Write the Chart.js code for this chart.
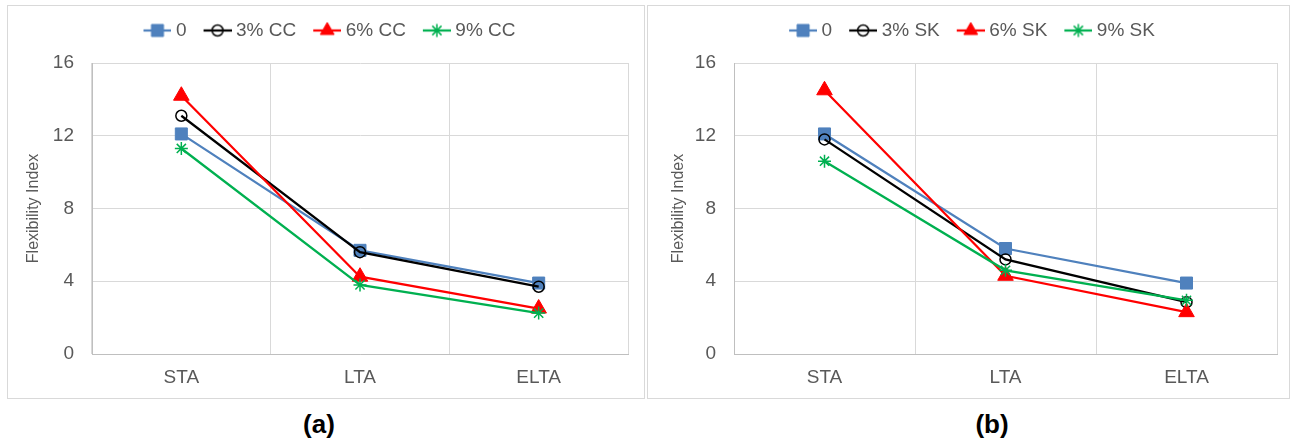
<!DOCTYPE html>
<html><head><meta charset="utf-8">
<script src="https://cdn.jsdelivr.net/npm/chart.js@4/dist/chart.umd.min.js"></script>
<style>
html,body{margin:0;padding:0;background:#fff;width:1291px;height:444px;overflow:hidden;position:relative;font-family:"Liberation Sans",Arial,sans-serif}
.panel{position:absolute;border:1px solid #d9d9d9;top:5px;height:392px;background:#fff}
.panel canvas{display:block}
.cap{position:absolute;font-weight:bold;font-size:26px;line-height:1;color:#000;transform:translate(-50%,-50%);white-space:nowrap}
</style></head><body>
<div class="panel" style="left:7px;width:636px"><canvas id="ca" width="636" height="392"></canvas></div>
<div class="panel" style="left:647px;width:641px"><canvas id="cb" width="641" height="392"></canvas></div>
<div class="cap" style="left:319px;top:424px">(a)</div>
<div class="cap" style="left:992px;top:424px">(b)</div>
<script>
// ---- data ----
const categories = ['STA', 'LTA', 'ELTA'];
const namesA = ['0', '3% CC', '6% CC', '9% CC'];
const namesB = ['0', '3% SK', '6% SK', '9% SK'];
const a0 = [12.1, 5.7, 3.9];
const a3 = [13.1, 5.6, 3.7];
const a6 = [14.2, 4.25, 2.5];
const a9 = [11.3, 3.8, 2.25];
const b0 = [12.1, 5.8, 3.9];
const b3 = [11.8, 5.2, 2.85];
const b6 = [14.5, 4.3, 2.3];
const b9 = [10.6, 4.6, 2.95];
const yTicks = [0, 4, 8, 12, 16];
const yTitle = 'Flexibility Index';

// ---- styles ----
const styles = [
  {color: '#4F81BD', fill: '#4F81BD', shape: 'rect', r: 8.5, bw: 1},
  {color: '#000000', fill: 'rgba(255,255,255,0)', shape: 'circle', r: 5.5, bw: 1.5},
  {color: '#FF0000', fill: '#FF0000', shape: 'triangle', r: 9, bw: 1},
  {color: '#00B050', fill: '#00B050', shape: 'star', r: 6.5, bw: 1.5}
];
const TXT = '#595959';
Chart.defaults.font.family = '"Liberation Sans", Arial, sans-serif';

// legend icon: short line with the series marker in its middle
function legendIcon(st) {
  const c = document.createElement('canvas');
  c.width = 40; c.height = 18;
  const g = c.getContext('2d');
  g.strokeStyle = st.color; g.lineWidth = 2.25;
  g.beginPath(); g.moveTo(12, 9); g.lineTo(40, 9); g.stroke();
  g.fillStyle = st.fill; g.lineWidth = st.bw;
  if (Chart.helpers && Chart.helpers.drawPoint) {
    Chart.helpers.drawPoint(g, {pointStyle: st.shape, radius: st.shape === 'triangle' ? 8 : st.r, borderWidth: st.bw, rotation: 0}, 26, 9);
  }
  return c;
}

function makeChart(id, names, series, yW, rW, titlePad) {
  const datasets = series.map((d, i) => ({
    label: names[i],
    data: d,
    borderColor: styles[i].color,
    backgroundColor: styles[i].fill,
    borderWidth: 2.25,
    pointStyle: styles[i].shape,
    pointRadius: styles[i].r,
    pointHoverRadius: styles[i].r,
    pointBorderWidth: styles[i].bw,
    pointBackgroundColor: styles[i].fill,
    pointBorderColor: styles[i].color,
    tension: 0,
    order: series.length - i
  }));
  return new Chart(document.getElementById(id), {
    type: 'line',
    data: {labels: categories, datasets},
    options: {
      responsive: false,
      animation: false,
      devicePixelRatio: 1,
      layout: {padding: {top: 5, left: 0, right: 0, bottom: 0}},
      plugins: {
        tooltip: {enabled: false},
        legend: {
          display: true,
          position: 'top',
          labels: {
            usePointStyle: true,
            pointStyleWidth: 30,
            padding: 10,
            color: TXT,
            font: {size: 19},
            generateLabels: (chart) => chart.data.datasets.map((ds, i) => ({
              text: ds.label,
              pointStyle: legendIcon(styles[i]),
              fillStyle: styles[i].fill,
              strokeStyle: styles[i].color,
              lineWidth: 0,
              hidden: false,
              datasetIndex: i,
              fontColor: TXT
            }))
          }
        },
        subtitle: {
          display: true, text: '', weight: 500, position: 'top',
          font: {size: 1, lineHeight: 1}, padding: {top: 0, bottom: 12}
        }
      },
      scales: {
        x: {
          offset: true,
          grid: {offset: true, color: '#d9d9d9', drawTicks: false},
          border: {color: '#bfbfbf', width: 1},
          ticks: {color: TXT, font: {size: 19}, padding: 12},
          afterFit: (s) => { s.height = 44; }
        },
        y: {
          position: 'left',
          min: yTicks[0], max: yTicks[yTicks.length - 1],
          afterBuildTicks: (s) => { s.ticks = yTicks.map(v => ({value: v})); },
          ticks: {color: TXT, font: {size: 19}, padding: 18},
          grid: {color: '#d9d9d9', drawTicks: false},
          border: {color: '#bfbfbf', width: 1},
          title: {display: true, text: yTitle, color: TXT, font: {size: 16}, padding: {top: titlePad, bottom: 0}},
          afterFit: (s) => { s.width = yW; }
        },
        y2: {
          position: 'right', type: 'linear', display: true,
          grid: {display: false}, border: {display: false},
          ticks: {display: false},
          afterFit: (s) => { s.width = rW; }
        }
      }
    }
  });
}

makeChart('ca', namesA, [a0, a3, a6, a9], 84, 16, 16);
makeChart('cb', namesB, [b0, b3, b6, b9], 86, 12, 21);
</script>
</body></html>
